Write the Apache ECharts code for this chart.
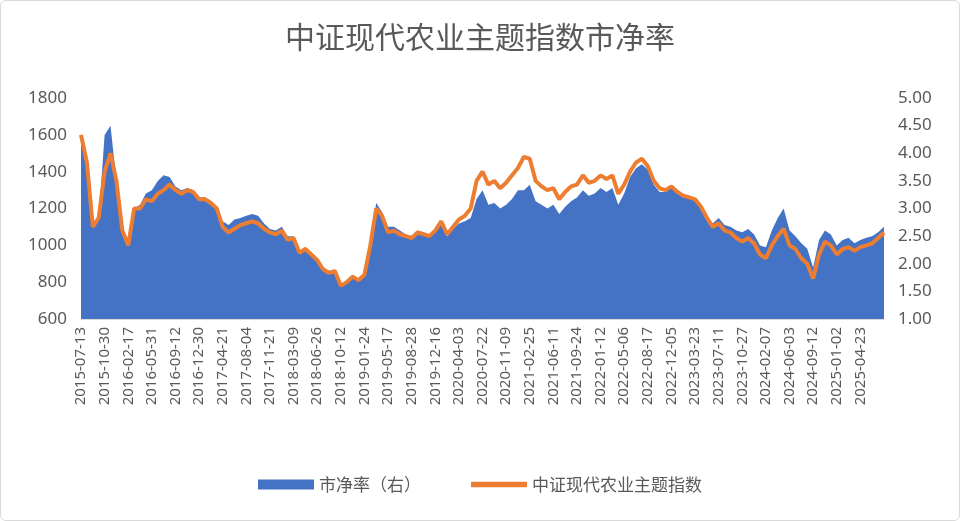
<!DOCTYPE html>
<html>
<head>
<meta charset="utf-8">
<script src="https://cdn.jsdelivr.net/npm/echarts@6/dist/echarts.min.js"></script>
<style>
html,body{margin:0;padding:0;background:#fff;}
#main{width:958px;height:519px;border:1px solid #d9d9d9;border-radius:6px;}
</style>
</head>
<body>
<div id="main"></div>
<script>
// tick dates shown on the x axis (one every 4 points)
var tickDates = ['2015-07-13','2015-10-30','2016-02-17','2016-05-31','2016-09-12','2016-12-30',
  '2017-04-21','2017-08-04','2017-11-21','2018-03-09','2018-06-26','2018-10-12','2019-01-24',
  '2019-05-17','2019-08-28','2019-12-16','2020-04-03','2020-07-22','2020-11-09','2021-02-25',
  '2021-06-11','2021-09-24','2022-01-12','2022-05-06','2022-08-17','2022-12-05','2023-03-23',
  '2023-07-11','2023-10-27','2024-02-07','2024-06-03','2024-09-12','2025-01-02','2025-04-23'];

// 中证现代农业主题指数 (left axis)
var indexValues = [
  1600,1450,1100,1150, 1400,1500,1350,1080, 1000,1200,1200,1250, 1240,1280,1300,1330,
  1300,1280,1300,1290, 1250,1250,1230,1200, 1100,1070,1090,1110, 1120,1130,1120,1090,
  1070,1060,1080,1030, 1040,960,980,950, 920,870,850,860, 780,800,830,810,
  840,1000,1200,1160, 1070,1080,1060,1050, 1040,1070,1060,1050, 1080,1130,1060,1100,
  1140,1160,1200,1350, 1400,1330,1350,1310, 1340,1380,1420,1480, 1470,1350,1320,1300,
  1310,1250,1290,1320, 1330,1380,1340,1350, 1380,1360,1380,1280, 1330,1400,1450,1470,
  1430,1350,1310,1300, 1320,1290,1270,1260, 1250,1210,1150,1100, 1120,1080,1070,1040,
  1020,1040,1010,950, 930,1000,1050,1090, 1000,980,930,900, 820,950,1020,1000,
  950,980,990,970, 990,1000,1010,1040,1070];

// 市净率 (right axis)
var pbValues = [
  4.33,3.83,2.67,2.83, 4.33,4.5,3.5,2.6, 2.33,3.0,3.07,3.27, 3.33,3.5,3.6,3.57,
  3.4,3.33,3.37,3.33, 3.2,3.2,3.13,3.03, 2.77,2.7,2.8,2.83, 2.87,2.9,2.87,2.73,
  2.63,2.6,2.67,2.5, 2.5,2.23,2.3,2.2, 2.1,1.93,1.87,1.9, 1.63,1.7,1.8,1.73,
  1.83,2.4,3.1,2.93, 2.67,2.67,2.6,2.53, 2.5,2.6,2.57,2.53, 2.6,2.73,2.5,2.63,
  2.73,2.77,2.83,3.17, 3.33,3.07,3.1,3.0, 3.07,3.17,3.33,3.33, 3.43,3.13,3.07,3.0,
  3.07,2.9,3.03,3.13, 3.2,3.33,3.23,3.27, 3.37,3.3,3.37,3.07, 3.27,3.57,3.73,3.8,
  3.7,3.43,3.3,3.3, 3.37,3.27,3.2,3.2, 3.17,3.07,2.87,2.73, 2.83,2.7,2.67,2.6,
  2.57,2.63,2.53,2.33, 2.3,2.6,2.83,3.0, 2.6,2.5,2.37,2.27, 1.93,2.43,2.6,2.53,
  2.33,2.43,2.47,2.37, 2.43,2.47,2.5,2.57,2.67];

var categories = [];
for (var i = 0; i < indexValues.length; i++) {
  categories.push(i % 4 === 0 && tickDates[i / 4] ? tickDates[i / 4] : '');
}

var chart = echarts.init(document.getElementById('main'));
chart.setOption({
  title: {
    text: '中证现代农业主题指数市净率',
    left: 'center', top: 16,
    textStyle: {color: '#595959', fontSize: 30, fontWeight: 'normal', fontFamily: 'Noto Sans CJK SC'}
  },
  grid: {left: 80, right: 75, top: 97, bottom: 201},
  legend: {
    bottom: 22,
    itemGap: 50,
    textStyle: {color: '#595959', fontSize: 17, fontFamily: 'Noto Sans CJK SC'},
    data: [
      {name: '市净率（右）', icon: 'rect', itemStyle: {color: '#4472C4'}},
      {name: '中证现代农业主题指数', icon: 'path://M0,4 L30,4 L30,7 L0,7 Z', itemStyle: {color: '#ED7D31'}}
    ],
    itemWidth: 56, itemHeight: 10
  },
  xAxis: {
    type: 'category',
    boundaryGap: false,
    data: categories,
    axisTick: {show: false},
    axisLine: {lineStyle: {color: '#d9d9d9'}},
    axisLabel: {interval: 3, rotate: 90, color: '#595959', fontSize: 15, fontFamily: 'Noto Sans'}
  },
  yAxis: [
    {
      type: 'value', min: 600, max: 1800, interval: 200,
      splitLine: {show: false},
      axisLabel: {color: '#595959', fontSize: 17, fontFamily: 'Noto Sans', margin: 14,
        formatter: function (v) { return String(v); }}
    },
    {
      type: 'value', min: 1, max: 5, interval: 0.5,
      splitLine: {show: false},
      axisLabel: {color: '#595959', fontSize: 17, fontFamily: 'Noto Sans', margin: 14,
        formatter: function (v) { return v.toFixed(2); }}
    }
  ],
  series: [
    {
      name: '市净率（右）', type: 'line', yAxisIndex: 1, data: pbValues,
      showSymbol: false, lineStyle: {width: 0}, itemStyle: {color: '#4472C4'},
      areaStyle: {color: '#4472C4', opacity: 1}
    },
    {
      name: '中证现代农业主题指数', type: 'line', yAxisIndex: 0, data: indexValues,
      showSymbol: false, lineStyle: {width: 4, color: '#ED7D31'}, itemStyle: {color: '#ED7D31'}
    }
  ]
});
</script>
</body>
</html>
